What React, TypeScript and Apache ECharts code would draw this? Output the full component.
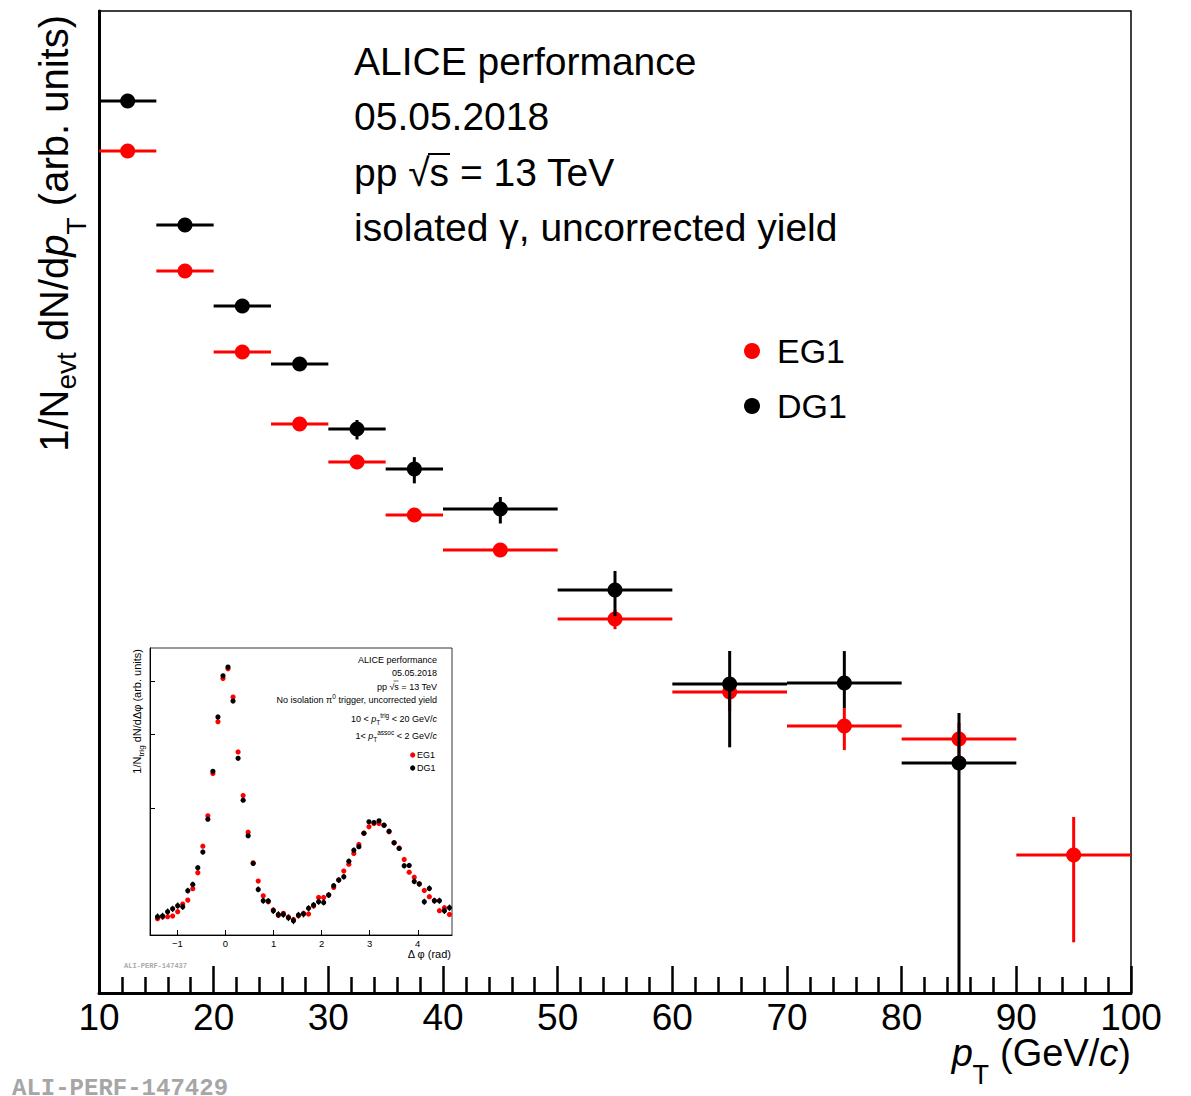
import React, { useEffect, useRef } from "react";
import * as echarts from "echarts";

const FONT = "Liberation Sans, Arial, Helvetica, sans-serif";
const MONO = "Liberation Mono, Courier New, monospace";

// ---- main panel: isolated photon pT spectrum (arbitrary units) ----
const PT_CENTER = [12.5, 17.5, 22.5, 27.5, 32.5, 37.5, 45, 55, 65, 75, 85, 95];
const PT_LOW = [10, 15, 20, 25, 30, 35, 40, 50, 60, 70, 80, 90];
const PT_HIGH = [15, 20, 25, 30, 35, 40, 50, 60, 70, 80, 90, 100];
const EG1_YIELD = [13930, 2578, 825, 300, 175.5, 83.2, 50.9, 19.3, 6.9, 4.28, 3.56, 0.697];
const EG1_ERR_UP = [300, 60, 22, 10, 6, 4, 3, 2.6, 1.62, 1.23, 0.9, 0.493];
const EG1_ERR_DOWN = [300, 60, 22, 10, 6, 4, 3, 2.6, 1.62, 1.23, 0.9, 0.493];
const DG1_YIELD = [28200, 4920, 1574, 697, 279, 159, 90.6, 29.0, 7.73, 7.83, 2.54];
const DG1_ERR_UP = [600, 140, 68, 40, 38, 29, 16.7, 8.9, 4.56, 4.45, 2.6];
const DG1_ERR_DOWN = [600, 140, 68, 40, 38, 29, 16.7, 8.9, 4.56, 2.32, 2.6];
const PT_MIN = 10;
const PT_MAX = 100;
const PT_STEP = 10;
const YIELD_MIN = 0.1;
const YIELD_MAX = 1e5;

// ---- inset: azimuthal correlation (arbitrary units) ----
const INSET_DPHI = [
  -1.414, -1.309, -1.204, -1.1, -0.995, -0.89, -0.785, -0.681, -0.576, -0.471,
  -0.367, -0.262, -0.157, -0.052, 0.052, 0.157, 0.262, 0.367, 0.471, 0.576,
  0.681, 0.785, 0.89, 0.995, 1.1, 1.204, 1.309, 1.414, 1.518, 1.623,
  1.728, 1.833, 1.937, 2.042, 2.147, 2.251, 2.356, 2.461, 2.566, 2.67,
  2.775, 2.88, 2.985, 3.089, 3.194, 3.299, 3.403, 3.508, 3.613, 3.718,
  3.822, 3.927, 4.032, 4.136, 4.241, 4.346, 4.451, 4.555, 4.66,
];
const INSET_EG1 = [
  1.093, 1.103, 1.105, 1.109, 1.136, 1.184, 1.21, 1.288, 1.405, 1.625,
  1.918, 2.416, 3.209, 4.064, 4.285, 3.671, 2.719, 2.143, 1.754, 1.484,
  1.343, 1.239, 1.199, 1.146, 1.113, 1.126, 1.103, 1.089, 1.111, 1.126,
  1.121, 1.171, 1.228, 1.228, 1.244, 1.297, 1.35, 1.418, 1.473, 1.562,
  1.64, 1.745, 1.806, 1.839, 1.839, 1.823, 1.758, 1.655, 1.608, 1.511,
  1.41, 1.372, 1.323, 1.276, 1.233, 1.206, 1.142, 1.161, 1.119,
];
const INSET_DG1 = [
  1.105, 1.109, 1.136, 1.154, 1.174, 1.167, 1.274, 1.318, 1.444, 1.573,
  1.883, 2.447, 3.292, 4.124, 4.324, 3.592, 2.627, 2.089, 1.72, 1.479,
  1.283, 1.206, 1.204, 1.142, 1.119, 1.119, 1.099, 1.081, 1.115, 1.121,
  1.157, 1.178, 1.199, 1.195, 1.244, 1.309, 1.35, 1.375, 1.497, 1.59,
  1.62, 1.745, 1.856, 1.849, 1.866, 1.823, 1.764, 1.655, 1.605, 1.46,
  1.463, 1.34, 1.321, 1.199, 1.29, 1.206, 1.206, 1.142, 1.161,
];
const INSET_EG1_ERR = 0.012;
const INSET_DG1_ERR = 0.02;
const INSET_X_TICKS = [-1, 0, 1, 2, 3, 4];
const INSET_Y_TICKS = [2, 3, 4];
const INSET_Y_MIN = 1;
const INSET_Y_MAX = 4.8;

const RED = "#ff0000";
const BLACK = "#000000";

function mainRender(color: string) {
  return (params: any, api: any) => {
    const x = api.value(0);
    const y = api.value(1);
    const xl = api.value(2);
    const xh = api.value(3);
    const ed = api.value(4);
    const eu = api.value(5);
    const c = api.coord([x, y]);
    const pl = api.coord([xl, y]);
    const ph = api.coord([xh, y]);
    const lo = api.coord([x, Math.max(y - ed, YIELD_MIN)]);
    const hi = api.coord([x, y + eu]);
    return {
      type: "group",
      children: [
        { type: "line", shape: { x1: pl[0], y1: c[1], x2: ph[0], y2: c[1] }, style: { stroke: color, lineWidth: 3 } },
        { type: "line", shape: { x1: c[0], y1: lo[1], x2: c[0], y2: hi[1] }, style: { stroke: color, lineWidth: 3 } },
        { type: "circle", shape: { cx: c[0], cy: c[1], r: 7.5 }, style: { fill: color } },
      ],
    };
  };
}

function insetRender(color: string) {
  return (params: any, api: any) => {
    const x = api.value(0);
    const y = api.value(1);
    const e = api.value(2);
    const c = api.coord([x, y]);
    const lo = api.coord([x, y - e]);
    const hi = api.coord([x, y + e]);
    return {
      type: "group",
      children: [
        { type: "line", shape: { x1: c[0], y1: lo[1], x2: c[0], y2: hi[1] }, style: { stroke: color, lineWidth: 1.2 } },
        { type: "circle", shape: { cx: c[0], cy: c[1], r: 2.6 }, style: { fill: color } },
      ],
    };
  };
}

function text(x: number, y: number, t: string, size: number, extra: any = {}) {
  return {
    type: "text",
    x,
    y,
    z: 50,
    style: { text: t, fontSize: size, fontFamily: FONT, fill: "#000", align: "left", verticalAlign: "middle", ...extra },
  };
}

function buildOption() {
  const eg1Data = EG1_YIELD.map((v, i) => [PT_CENTER[i], v, PT_LOW[i], PT_HIGH[i], EG1_ERR_DOWN[i], EG1_ERR_UP[i]]);
  const dg1Data = DG1_YIELD.map((v, i) => [PT_CENTER[i], v, PT_LOW[i], PT_HIGH[i], DG1_ERR_DOWN[i], DG1_ERR_UP[i]]);
  const insetEg1 = INSET_DPHI.map((x, i) => [x, INSET_EG1[i], INSET_EG1_ERR]);
  const insetDg1 = INSET_DPHI.map((x, i) => [x, INSET_DG1[i], INSET_DG1_ERR]);

  const yTitleRich = {
    n: { fontSize: 40, fontFamily: FONT, verticalAlign: "top" },
    i: { fontSize: 40, fontFamily: FONT, fontStyle: "italic", verticalAlign: "top" },
    s1: { fontSize: 28, fontFamily: FONT, verticalAlign: "top", padding: [18, 0, 0, 0] },
    s2: { fontSize: 28, fontFamily: FONT, verticalAlign: "top", padding: [28, 0, 0, 0] },
  };
  const xTitleRich = {
    n: { fontSize: 38, fontFamily: FONT },
    i: { fontSize: 38, fontFamily: FONT, fontStyle: "italic" },
  };
  const smallRich = {
    n: { fontSize: 9, fontFamily: FONT, verticalAlign: "top", padding: [3, 0, 0, 0] },
    i: { fontSize: 9, fontFamily: FONT, fontStyle: "italic", verticalAlign: "top", padding: [3, 0, 0, 0] },
    sup: { fontSize: 6.5, fontFamily: FONT, verticalAlign: "top", padding: [0, 0, 0, 0] },
    sub: { fontSize: 6.5, fontFamily: FONT, verticalAlign: "top", padding: [7, 0, 0, 0] },
  };
  const insetTitleRich = {
    n: { fontSize: 11, fontFamily: FONT, verticalAlign: "top" },
    sub: { fontSize: 8, fontFamily: FONT, verticalAlign: "top", padding: [6, 0, 0, 0] },
  };

  const graphics: any[] = [
    // main header text
    text(354, 61, "ALICE performance", 39),
    text(354, 116, "05.05.2018", 39),
    text(354, 172, "pp √s = 13 TeV", 39),
    text(354, 227, "isolated γ, uncorrected yield", 39),
    { type: "line", z: 50, shape: { x1: 428, y1: 154, x2: 450, y2: 154 }, style: { stroke: "#000", lineWidth: 2 } },
    // main legend
    { type: "circle", z: 50, shape: { cx: 752, cy: 351, r: 8 }, style: { fill: RED } },
    text(777, 351, "EG1", 34),
    { type: "circle", z: 50, shape: { cx: 752, cy: 406, r: 8 }, style: { fill: BLACK } },
    text(777, 406, "DG1", 34),
    // main axis titles
    {
      type: "text",
      z: 50,
      x: 34,
      y: 15,
      rotation: Math.PI / 2,
      style: {
        text: "{n|1/N}{s1|evt}{n| dN/d}{i|p}{s2|T}{n| (arb. units)}",
        rich: yTitleRich,
        align: "right",
        verticalAlign: "top",
        fill: "#000",
        fontFamily: FONT,
        fontSize: 40,
      },
    },
    {
      type: "text",
      z: 50,
      x: 1131,
      y: 1053,
      style: {
        text: "{n|(GeV/}{i|c}{n|)}",
        rich: xTitleRich,
        align: "right",
        verticalAlign: "middle",
        fill: "#000",
        fontFamily: FONT,
        fontSize: 38,
      },
    },
    text(989, 1075, "T", 27, { align: "right" }),
    text(973, 1053, "p", 38, { align: "right", fontStyle: "italic" }),
    text(12, 1088, "ALI-PERF-147429", 24, { fontFamily: MONO, fontWeight: "bold", fill: "#a6a6a6" }),

    // inset header text
    text(437, 660, "ALICE performance", 9, { align: "right" }),
    text(437, 673, "05.05.2018", 9, { align: "right" }),
    text(437, 686.5, "pp √s = 13 TeV", 9, { align: "right" }),
    { type: "line", z: 50, shape: { x1: 393.5, y1: 681, x2: 398.5, y2: 681 }, style: { stroke: "#000", lineWidth: 0.6 } },
    {
      type: "text", z: 50, x: 437, y: 700 - 7.5,
      style: { text: "{n|No isolation π}{sup|0}{n| trigger, uncorrected yield}", rich: smallRich, align: "right", verticalAlign: "top", fill: "#000" },
    },
    {
      type: "text", z: 50, x: 437, y: 719 - 7.5,
      style: { text: "{n|10 < }{i|p}{sub|T}{sup|trig}{n| < 20 GeV/}{i|c}", rich: smallRich, align: "right", verticalAlign: "top", fill: "#000" },
    },
    {
      type: "text", z: 50, x: 437, y: 736 - 7.5,
      style: { text: "{n|1< }{i|p}{sub|T}{sup|assoc}{n| < 2 GeV/}{i|c}", rich: smallRich, align: "right", verticalAlign: "top", fill: "#000" },
    },
    { type: "circle", z: 50, shape: { cx: 412.7, cy: 755, r: 2.6 }, style: { fill: RED } },
    text(417, 755, "EG1", 9),
    { type: "circle", z: 50, shape: { cx: 412.7, cy: 768, r: 2.6 }, style: { fill: BLACK } },
    text(417, 768, "DG1", 9),
    {
      type: "text",
      z: 50,
      x: 131.5,
      y: 649,
      rotation: Math.PI / 2,
      style: {
        text: "{n|1/N}{sub|trig}{n| dN/dΔφ (arb. units)}",
        rich: insetTitleRich,
        align: "right",
        verticalAlign: "top",
        fill: "#000",
      },
    },
    text(451, 954, "Δ φ (rad)", 11, { align: "right" }),
    text(124, 966, "ALI-PERF-147437", 7, { fontFamily: MONO, fontWeight: "bold", fill: "#aaaaaa" }),
  ];

  return {
    animation: false,
    backgroundColor: "#ffffff",
    textStyle: { fontFamily: FONT },
    grid: [
      { left: 99, right: 60, top: 11, bottom: 103, show: true, borderColor: "#000", borderWidth: 1.5, backgroundColor: "transparent" },
      { left: 150, right: 739, top: 648, bottom: 161, show: true, borderColor: "#000", borderWidth: 0.8, backgroundColor: "#ffffff" },
    ],
    xAxis: [
      {
        type: "value",
        gridIndex: 0,
        min: PT_MIN,
        max: PT_MAX,
        interval: PT_STEP,
        axisLine: { show: true, onZero: false, lineStyle: { color: "#000", width: 3 } },
        axisTick: { show: true, inside: true, length: 27, lineStyle: { color: "#000", width: 2.5 } },
        minorTick: { show: true, splitNumber: 5, length: 16, lineStyle: { color: "#000", width: 2.5 } },
        splitLine: { show: false },
        axisLabel: { fontSize: 37, lineHeight: 30, fontFamily: FONT, color: "#000", margin: 9 },
      },
      {
        type: "value",
        gridIndex: 1,
        min: -Math.PI / 2,
        max: (3 * Math.PI) / 2,
        axisLine: { show: true, onZero: false, lineStyle: { color: "#000", width: 1 } },
        axisTick: { show: true, inside: true, length: 5, customValues: INSET_X_TICKS, lineStyle: { color: "#000", width: 1 } },
        splitLine: { show: false },
        axisLabel: {
          customValues: INSET_X_TICKS,
          fontSize: 9.5,
          fontFamily: FONT,
          color: "#000",
          margin: 3,
          formatter: (v: number) => (v < 0 ? "−" + Math.abs(v) : String(v)),
        },
      },
    ],
    yAxis: [
      {
        type: "log",
        gridIndex: 0,
        logBase: 10,
        min: YIELD_MIN,
        max: YIELD_MAX,
        axisLine: { show: true, onZero: false, lineStyle: { color: "#000", width: 3 } },
        axisTick: { show: false },
        axisLabel: { show: false },
        splitLine: { show: false },
      },
      {
        type: "log",
        gridIndex: 1,
        logBase: 10,
        min: INSET_Y_MIN,
        max: INSET_Y_MAX,
        axisLine: { show: true, onZero: false, lineStyle: { color: "#000", width: 1 } },
        axisTick: { show: true, inside: true, length: 5, customValues: INSET_Y_TICKS, lineStyle: { color: "#000", width: 1 } },
        axisLabel: { show: false },
        splitLine: { show: false },
      },
    ],
    series: [
      {
        name: "EG1",
        type: "custom",
        xAxisIndex: 0,
        yAxisIndex: 0,
        itemStyle: { color: RED },
        encode: { x: 0, y: 1 },
        clip: false,
        renderItem: mainRender(RED),
        data: eg1Data,
      },
      {
        name: "DG1",
        type: "custom",
        xAxisIndex: 0,
        yAxisIndex: 0,
        itemStyle: { color: BLACK },
        encode: { x: 0, y: 1 },
        clip: false,
        renderItem: mainRender(BLACK),
        data: dg1Data,
      },
      {
        name: "EG1 (inset)",
        type: "custom",
        xAxisIndex: 1,
        yAxisIndex: 1,
        itemStyle: { color: RED },
        encode: { x: 0, y: 1 },
        clip: false,
        renderItem: insetRender(RED),
        data: insetEg1,
      },
      {
        name: "DG1 (inset)",
        type: "custom",
        xAxisIndex: 1,
        yAxisIndex: 1,
        itemStyle: { color: BLACK },
        encode: { x: 0, y: 1 },
        clip: false,
        renderItem: insetRender(BLACK),
        data: insetDg1,
      },
    ],
    graphic: { elements: graphics },
  };
}

export default function App() {
  const ref = useRef<HTMLDivElement>(null);
  useEffect(() => {
    if (!ref.current) return;
    const chart = echarts.init(ref.current, null, { renderer: "svg" });
    chart.setOption(buildOption() as any);
    return () => chart.dispose();
  }, []);
  return (
    <div
      ref={ref}
      style={{ position: "absolute", left: 0, top: 0, width: 1191, height: 1096, background: "#fff" }}
    />
  );
}
